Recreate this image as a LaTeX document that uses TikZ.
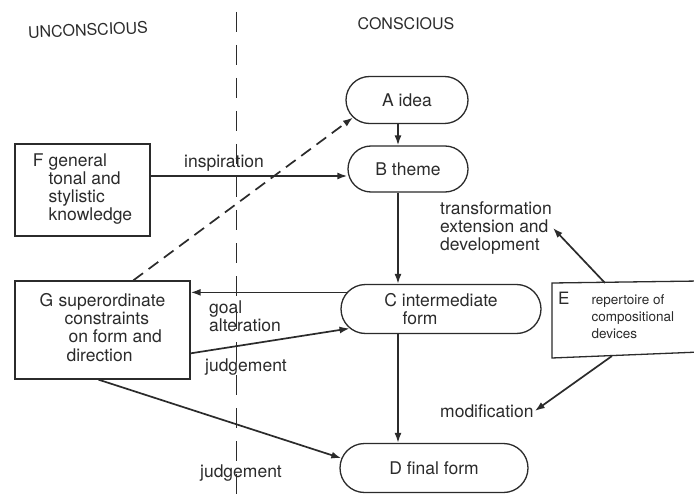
\documentclass[tikz,border=0pt]{standalone}
\usepackage{fontspec}
\setmainfont{TeX Gyre Heros}
\usetikzlibrary{shapes.misc,arrows.meta,calc}
\definecolor{ink}{HTML}{2B2B2B}
\begin{document}
\begin{tikzpicture}[x=1pt,y=-1pt,
  every node/.style={text=ink, font=\fontsize{17.5}{18}\selectfont},
  pill/.style={rounded rectangle, draw=ink, line width=1.3pt, inner sep=0pt},
  box/.style={rectangle, draw=ink, line width=1.3pt, inner sep=0pt},
  lbl/.style={inner sep=1pt},
  arr/.style={draw=ink, line width=1.7pt, -{Latex[length=10pt,width=7pt]}},
  dasharr/.style={arr, dash pattern=on 12pt off 7pt},
  divider/.style={draw=ink, line width=0.9pt, dash pattern=on 20pt off 13pt}]
\useasboundingbox (0,0) rectangle (694,500);
\fill[white] (0,0) rectangle (694,500);

% headings and divider
\node[font=\fontsize{16}{18}\selectfont, rotate=2.5] (unc) at (88,30) {UNCONSCIOUS};
\node[font=\fontsize{16}{18}\selectfont] (con) at (406,24) {CONSCIOUS};
\draw[divider] (236,12) -- (236,500);

% conscious stages
\node[pill, minimum width=122pt, minimum height=47pt] (A) at (407,100) {A idea};
\node[pill, minimum width=120pt, minimum height=46pt] (B) at (408,169) {B theme};
\node[pill, minimum width=200pt, minimum height=49pt, align=center] (C) at (441,309) {C intermediate\\\hspace*{-42pt}form};
\node[pill, minimum width=188pt, minimum height=49pt] (D) at (434,468) {D final form};

% unconscious boxes
\node[box, minimum width=135pt, minimum height=92pt] (F) at (82.5,190)
  {\begin{tabular}{@{}l@{\hspace{0.3em}}l@{}}F&general\\&tonal and\\&stylistic\\&knowledge\end{tabular}};
\node[box, minimum width=175pt, minimum height=98pt] (G) at (102.5,330)
  {\begin{tabular}{@{}l@{\hspace{0.3em}}l@{}}G&superordinate\\&\hspace{6pt}constraints\\&\hspace{10pt}on form and\\&\hspace{8pt}direction\end{tabular}};

% E box (runs off the right edge)
\draw[ink, line width=1.3pt] (700,281) -- (552,283) -- (552,358) -- (700,352);
\node[anchor=west, inner sep=0pt, font=\fontsize{13.5}{17}\selectfont] (E) at (558,318)
  {\begin{tabular}{@{}l@{\hspace{22pt}}l@{}}{\fontsize{17}{17}\selectfont E}&repertoire of\\&compositional\\&devices\end{tabular}};
\coordinate (E1) at (605,283);
\coordinate (E2) at (612,356);

% labels
\node[lbl] (ins) at (224,163) {inspiration};
\node[lbl, align=left, anchor=west] (goal) at (208,316) {goal\\alteration};
\node[lbl] (j1) at (246,367) {judgement};
\node[lbl] (j2) at (241,473) {judgement};
\node[lbl, align=left, anchor=west] (T) at (439,228) {transformation\\extension and\\development};
\node[lbl, anchor=west] (M) at (439,411) {modification};

% connectors
\coordinate (vx) at (398,0);
\coordinate (yins) at (0,176);
\draw[arr] (A.south -| vx) -- (B.north -| vx);
\draw[arr] (B.south -| vx) -- (C.north -| vx);
\draw[arr] (C.south -| vx) -- (D.north -| vx);
\draw[arr] (F.east |- yins) -- (B.west |- yins);
\draw[dasharr] ($(G.north west)!0.675!(G.north east)$) -- (A.198);
\draw[arr] (C.170) -- (G.east |- C.170);
\draw[arr] ($(G.east)!0.47!(G.south east)$) -- (C.192);
\draw[arr] ($(G.south)+(-4,0)$) -- (D.174);
\draw[arr] (E1) -- (T.east);
\draw[arr] (E2) -- (M.east);
\end{tikzpicture}
\end{document}
